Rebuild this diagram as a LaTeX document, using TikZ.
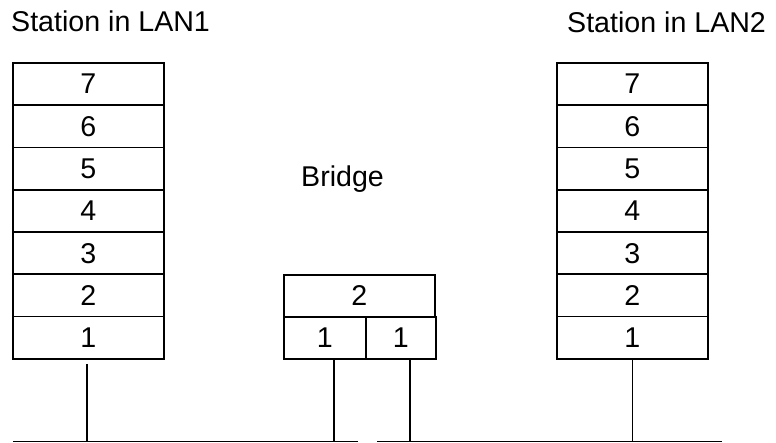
\documentclass[tikz,border=0pt]{standalone}
\usepackage{fontspec}
\setmainfont{Liberation Sans}
\usetikzlibrary{calc}
\tikzset{>=latex}

\begin{document}
\begin{tikzpicture}[x=1pt,y=1pt,
    every node/.style={font=\fontsize{28.6}{33}\selectfont},
    layer/.style={draw,line width=1.7pt,minimum width=151pt,minimum height=42.3pt,inner sep=0pt,anchor=north west},
    wire/.style={line width=1.3pt}]
            \useasboundingbox (0,0) rectangle (776,443);
            % the two stations
            \foreach \n [count=\i from 0] in {7,6,5,4,3,2,1} {
                \node[layer] (l\n) at (12,{381-\i*42.3}) {\n};
                \node[layer] (r\n) at (556,{381-\i*42.3}) {\n};
            }
            \node[anchor=base west,inner sep=0pt] (capL) at (11,411) {Station in LAN1};
            \node[anchor=base west,inner sep=0pt] (capR) at (567,410) {Station in LAN2};
            % the bridge
            \node[anchor=base west,inner sep=0pt] (brg) at (301,256) {Bridge};
            \node[layer,minimum width=151pt,minimum height=42pt] (b2) at (283,169) {2};
            \node[layer,minimum width=82pt,minimum height=42pt] (b1a) at (283,127) {1};
            \node[layer,minimum width=70pt,minimum height=42pt] (b1b) at (365,127) {1};
            % the two LANs
            \coordinate (busLa) at (13,1.5);
            \coordinate (busLb) at (358,1.5);
            \coordinate (busRa) at (377,1.5);
            \coordinate (busRb) at (722,1.5);
            \draw[wire] (busLa) -- (busLb);
            \draw[wire] (busRa) -- (busRb);
            \coordinate (tapL) at ($(b1a.south)+(9,0)$);
            \coordinate (tapR) at ($(b1b.south)+(9,0)$);
            \coordinate (tapS) at ($(l1.south)+(-1.5,-4)$);
            \draw[wire] (tapS) -- (tapS |- busLa);
            \draw[wire] (tapL) -- (tapL |- busLa);
            \draw[wire] (tapR) -- (tapR |- busRa);
            \draw[wire] (r1.south) -- (r1.south |- busRa);
        \end{tikzpicture}
\end{document}
